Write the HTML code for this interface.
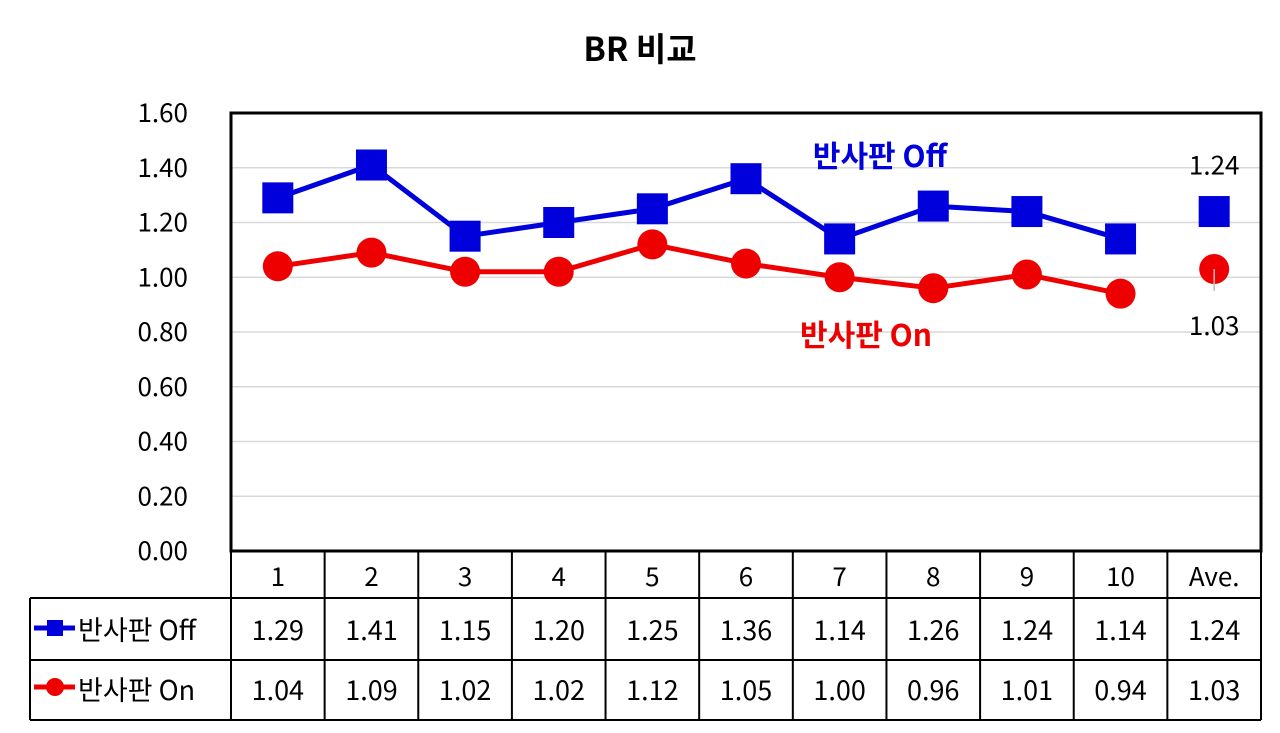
<!DOCTYPE html>
<html><head><meta charset="utf-8">
<style>
html,body{margin:0;padding:0;background:#fff;}
svg text{font-family:"Noto Sans CJK KR","Liberation Sans",sans-serif;}
</style></head>
<body>
<svg width="1280" height="728" viewBox="0 0 1280 728" xmlns="http://www.w3.org/2000/svg" id="chart">
<text x="640" y="61" text-anchor="middle" font-size="33" font-weight="bold" fill="#000">BR 비교</text>
<g id="grid"></g>
<g id="series"></g>
<rect x="231" y="113" width="1030" height="438" fill="none" stroke="#000" stroke-width="3"/>
<g id="table"></g>
<text x="880" y="167" text-anchor="middle" font-size="30" font-weight="bold" fill="#0000dd">반사판 Off</text>
<text x="866" y="346" text-anchor="middle" font-size="30" font-weight="bold" fill="#ee0000">반사판 On</text>
</svg>
<script>
const categories = ["1","2","3","4","5","6","7","8","9","10","Ave."];
const offValues = [1.29,1.41,1.15,1.20,1.25,1.36,1.14,1.26,1.24,1.14,1.24];
const onValues = [1.04,1.09,1.02,1.02,1.12,1.05,1.00,0.96,1.01,0.94,1.03];
const yTicks = [0,0.2,0.4,0.6,0.8,1.0,1.2,1.4,1.6];

const NS="http://www.w3.org/2000/svg";
const L=231,R=1261,T=113,B=551,YMAX=1.6;
const cw=(R-L)/categories.length;
const x=i=>L+cw*(i+0.5);
const y=v=>B-(v/YMAX)*(B-T);
function mk(tag,attrs,parent){const e=document.createElementNS(NS,tag);for(const k in attrs)e.setAttribute(k,attrs[k]);parent.appendChild(e);return e;}
const grid=document.getElementById('grid'),ser=document.getElementById('series'),tbl=document.getElementById('table');

yTicks.forEach(t=>{
  const ln=mk('line',{x1:L,x2:R,y1:y(t),y2:y(t),stroke:'#d9d9d9','stroke-width':1.5},grid);
  
  
  const tx=mk('text',{x:188,y:y(t)+9,'text-anchor':'end','font-size':26,fill:'#000'},grid);
  tx.textContent=t.toFixed(2);
  
  
});

function series(vals,color,shape,name){
  const n=vals.length-1;
  const pts=vals.slice(0,n).map((v,i)=>x(i)+','+y(v)).join(' ');
  const pl=mk('polyline',{points:pts,fill:'none',stroke:color,'stroke-width':5,'stroke-linejoin':'round'},ser);
  
  
  vals.forEach((v,i)=>{
    let m;
    if(shape==='sq') m=mk('rect',{x:x(i)-15.5,y:y(v)-15.5,width:31,height:31,fill:color},ser);
    else m=mk('circle',{cx:x(i),cy:y(v),r:15,fill:color},ser);
    
    
  });
}
series(offValues,'#0000dd','sq','off');
series(onValues,'#ee0000','ci','on');
const ai=categories.length-1;
const lbl1=mk('text',{x:x(ai),y:y(offValues[ai])-37,'text-anchor':'middle','font-size':26,fill:'#000'},ser);
lbl1.textContent=offValues[ai].toFixed(2);


mk('line',{x1:x(ai),x2:x(ai),y1:y(onValues[ai]),y2:y(onValues[ai])+22,stroke:'#bbb','stroke-width':1.5},ser);
const lbl2=mk('text',{x:x(ai),y:y(onValues[ai])+66,'text-anchor':'middle','font-size':26,fill:'#000'},ser);
lbl2.textContent=onValues[ai].toFixed(2);



const rows=[551,598,660,720];
const TL=30;
function tl(x1,y1,x2,y2){const l=mk('line',{x1,y1,x2,y2,stroke:'#000','stroke-width':2},tbl);}
tl(L,rows[0],L,rows[3]);
for(let i=0;i<=categories.length;i++) tl(L+cw*i,rows[0],L+cw*i,rows[3]);
tl(TL,rows[1],TL,rows[3]);
tl(TL,rows[1],R,rows[1]);tl(TL,rows[2],R,rows[2]);tl(TL,rows[3],R,rows[3]);
categories.forEach((c,i)=>{
  const t=mk('text',{x:x(i),y:586,'text-anchor':'middle','font-size':26,fill:'#000'},tbl);
  t.textContent=c;
  
  
  const a=mk('text',{x:x(i),y:640,'text-anchor':'middle','font-size':27,fill:'#000'},tbl);
  a.textContent=offValues[i].toFixed(2);
  
  
  const b=mk('text',{x:x(i),y:700,'text-anchor':'middle','font-size':27,fill:'#000'},tbl);
  b.textContent=onValues[i].toFixed(2);
  
  
});
mk('line',{x1:34,x2:75,y1:628,y2:628,stroke:'#0000dd','stroke-width':5},tbl);
const lk1=mk('rect',{x:47,y:620,width:16,height:16,fill:'#0000dd'},tbl);


const lt1=mk('text',{x:78,y:640,'font-size':27,fill:'#000'},tbl);
lt1.textContent='반사판 Off';


mk('line',{x1:34,x2:75,y1:687,y2:687,stroke:'#ee0000','stroke-width':5},tbl);
const lk2=mk('circle',{cx:55,cy:687,r:9,fill:'#ee0000'},tbl);


const lt2=mk('text',{x:78,y:700,'font-size':27,fill:'#000'},tbl);
lt2.textContent='반사판 On';


</script>
</body></html>
